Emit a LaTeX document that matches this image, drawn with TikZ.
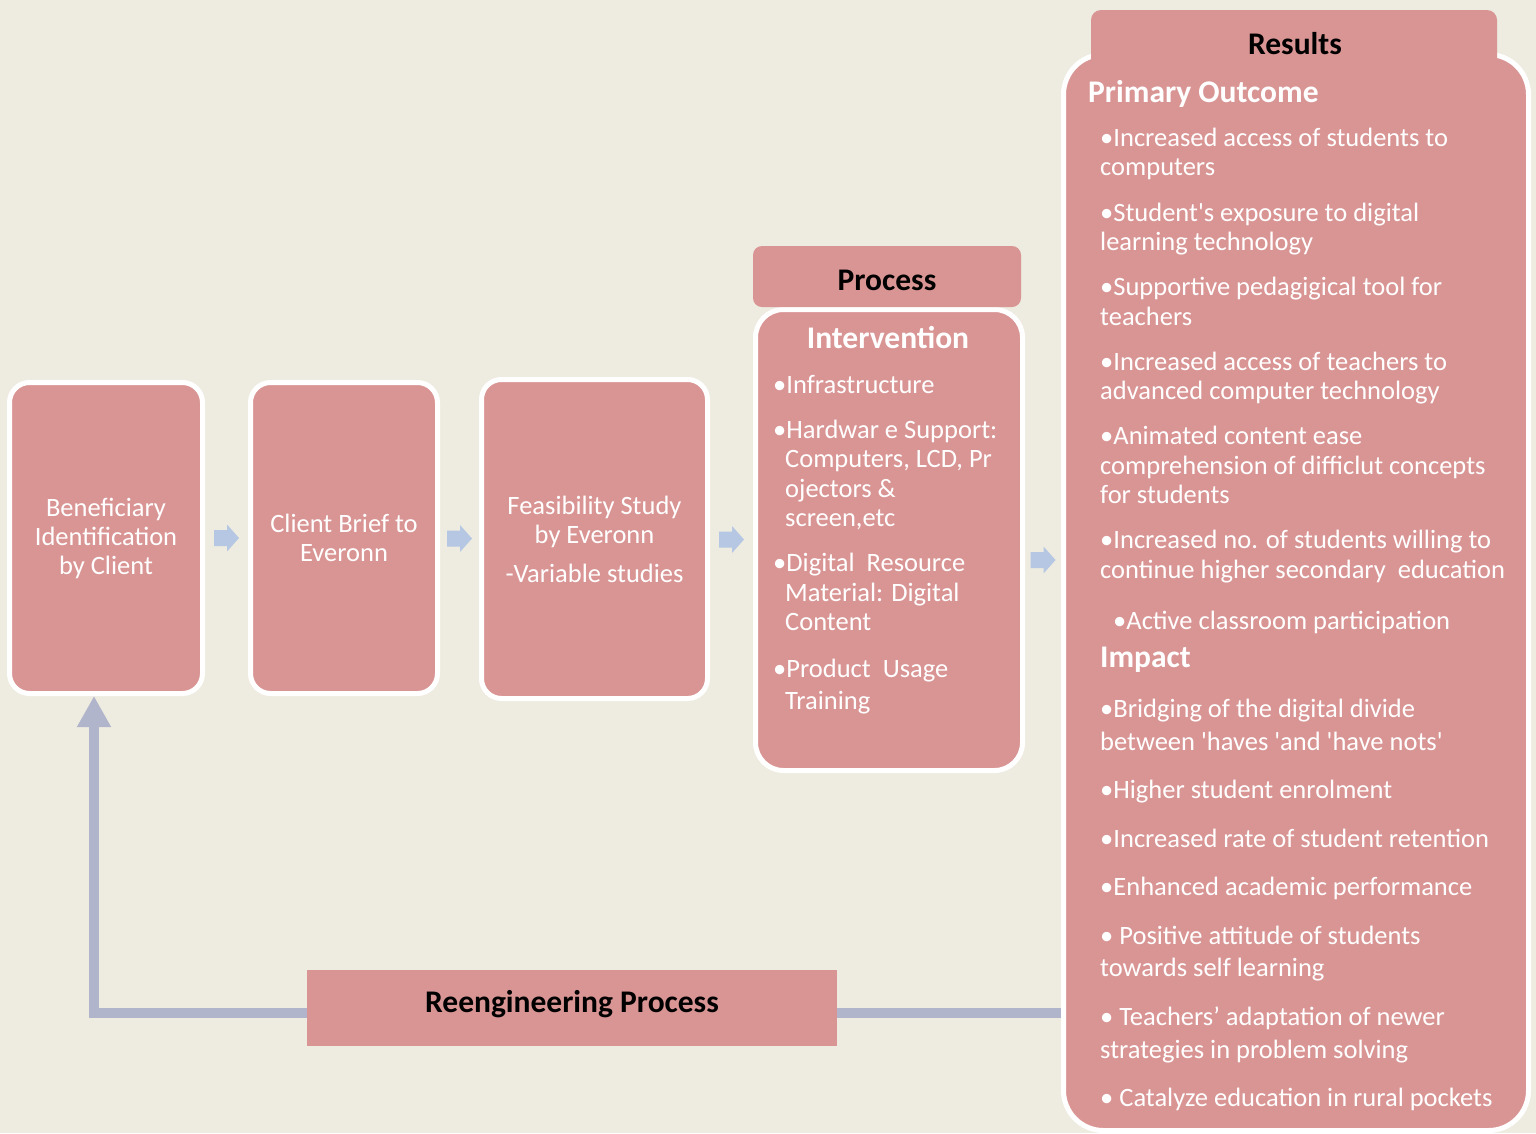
\documentclass[tikz,border=0pt]{standalone}
\usepackage{fontspec}
\setmainfont{Carlito}[Ligatures=TeXOff]
\usetikzlibrary{arrows.meta,calc}
\definecolor{bgc}{HTML}{EEEBE0}
\definecolor{pinkc}{HTML}{D99594}
\definecolor{arrowblue}{HTML}{B5C7E3}
\definecolor{fbc}{HTML}{B1B5CB}
\tikzset{
  stepbox/.style={rectangle, rounded corners=20pt, fill=pinkc, draw=white, line width=5pt,
    text=white, align=center, inner sep=0pt, font=\fontsize{26.5}{29}\selectfont},
  bigbox/.style={stepbox, rounded corners=36pt},
  headbox/.style={rectangle, rounded corners=9pt, fill=pinkc, inner sep=0pt},
  headtxt/.style={anchor=base, inner sep=0pt, text=black, font=\fontsize{31.5}{36}\selectfont\bfseries},
  subtxt/.style={anchor=base west, inner sep=0pt, text=white, font=\fontsize{31.5}{36}\selectfont\bfseries},
  bodytxt/.style={anchor=base west, inner sep=0pt, text=white, font=\fontsize{26.5}{29}\selectfont},
  feedback/.style={draw=fbc, line width=10pt, line join=miter, -{Triangle[length=31pt,width=32pt]}},
  blockarrow/.pic={\fill[arrowblue] (-12.5,-8) -- (0.5,-8) -- (0.5,-13.5) -- (12.5,0) -- (0.5,13.5) -- (0.5,8) -- (-12.5,8) -- cycle;}
}
\begin{document}
\begin{tikzpicture}[x=1pt,y=-1pt]
\fill[bgc] (0,0) rectangle (1536,1133);
\useasboundingbox (0,0) rectangle (1536,1133);

% boxes
\node[stepbox, minimum width=193pt, minimum height=311pt] (b1) at (106,538)
  {Beneficiary\\Identification\\by Client};
\node[stepbox, minimum width=187pt, minimum height=311pt] (b2) at (344,538)
  {Client Brief to\\Everonn};
\node[stepbox, minimum width=226pt, minimum height=319pt] (b3) at (594.5,539)
  {Feasibility Study\\by Everonn\\[10pt]-Variable studies};
\node[bigbox, rounded corners=28pt, minimum width=267pt, minimum height=461pt] (iv) at (889,540) {};
\node[headbox, minimum width=268pt, minimum height=61pt] (ph) at (887,276.5) {};
\node[bigbox, rounded corners=40pt, minimum width=465pt, minimum height=1076pt] (res) at (1296,592.5) {};
\node[headbox, rounded corners=10pt, minimum width=406pt, minimum height=80pt] (rh) at (1294,50) {};

% feedback loop
\coordinate (fb) at (94,1013);
\draw[feedback] (res.west |- fb) -- (fb) -- ([xshift=-12pt]b1.south);
\node[rectangle, fill=pinkc, minimum width=530pt, minimum height=76pt, inner sep=0pt] (re) at (572,1008) {};
\node[headtxt] (retxt) at (572,1012) {Reengineering Process};

% block arrows
\coordinate (a1) at ($(b1.east)!0.5!(b2.west)$);
\coordinate (a2) at ($(b2.east)!0.5!(b3.west)$);
\coordinate (a3) at ($(b3.east)!0.5!(iv.west)$);
\coordinate (a4) at (1043,560);
\pic at (a1) {blockarrow};
\pic at (a2) {blockarrow};
\pic at (a3) {blockarrow};
\pic at (a4) {blockarrow};

% headers
\node[headtxt] (ptxt) at (887,290) {Process};
\node[headtxt] (rtxt) at (1295,54) {Results};
\node[headtxt, text=white] (ivtxt) at (888,348) {Intervention};
\node[subtxt] (potxt) at (1088,102) {Primary Outcome};
\node[subtxt] (imtxt) at (1100,667) {Impact};

% intervention list
\foreach \nm/\xx/\yy/\txt in {
  i1/773/393/{•Infrastructure},
  i2/773/438/{•Hardwar e Support:},
  i3/785/467/{Computers, LCD, Pr},
  i4/785/497/{ojectors \&},
  i5/785/526/{screen,etc},
  i6/773/571/{•Digital\ \ Resource},
  i7/785/601/{Material: Digital},
  i8/785/630/{Content},
  i9/773/677/{•Product\ \ Usage},
  i10/785/709/{Training}}
  {\node[bodytxt] (\nm) at (\xx,\yy) {\txt};}

% results list
\foreach \nm/\xx/\yy/\txt in {
  r1/1100/146/{•Increased access of students to},
  r2/1100/175/{computers},
  r3/1100/221/{•Student's exposure to digital},
  r4/1100/250/{learning technology},
  r5/1100/295/{•Supportive pedagigical tool for},
  r6/1100/325/{teachers},
  r7/1100/370/{•Increased access of teachers to},
  r8/1100/399/{advanced computer technology},
  r9/1100/444/{•Animated content ease},
  r10/1100/474/{comprehension of difficlut concepts},
  r11/1100/503/{for students},
  r12/1100/548/{•Increased no. of students willing to},
  r13/1100/578/{continue higher secondary\ \ education},
  r14/1113/629/{•Active classroom participation},
  r15/1100/717/{•Bridging of the digital divide},
  r16/1100/750/{between 'haves 'and 'have nots'},
  r17/1100/798/{•Higher student enrolment},
  r18/1100/847/{•Increased rate of student retention},
  r19/1100/895/{•Enhanced academic performance},
  r20/1100/944/{• Positive attitude of students},
  r21/1100/976/{towards self learning},
  r22/1100/1025/{• Teachers’ adaptation of newer},
  r23/1100/1058/{strategies in problem solving},
  r24/1100/1106/{• Catalyze education in rural pockets}}
  {\node[bodytxt] (\nm) at (\xx,\yy) {\txt};}
\end{tikzpicture}
\end{document}
